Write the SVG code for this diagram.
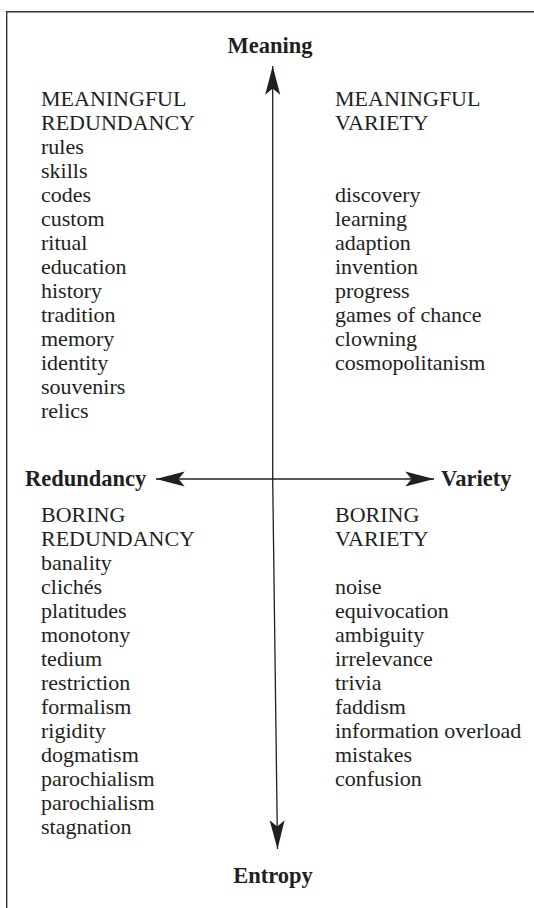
<svg xmlns="http://www.w3.org/2000/svg" width="534" height="908" viewBox="0 0 534 908">
<style>
  .t { font-family: "Liberation Serif", "Times New Roman", serif; font-size: 22px; fill: #231f20; }
  .b { font-family: "Liberation Serif", "Times New Roman", serif; font-size: 22.5px; font-weight: bold; fill: #231f20; }
  .ax { stroke: #231f20; stroke-width: 1.3; fill: none; }
  .frame { stroke: #333; stroke-width: 1.4; fill: none; }
</style>
<defs>
  <marker id="arr" markerUnits="userSpaceOnUse" markerWidth="30" markerHeight="16" refX="23" refY="6" orient="auto-start-reverse" viewBox="0 0 24 12">
    <path d="M23,6 L0,0 L5,6 L0,12 Z" fill="#231f20"/>
  </marker>
</defs>
<rect width="534" height="908" fill="#fff"/>
<path class="frame" d="M6.7,908 L6.7,11.7 L534,11.7"/>

<g id="connectors">
  <path class="ax" d="M272.7,66 L272.7,479 L277.5,849" marker-start="url(#arr)" marker-end="url(#arr)"/>
  <path class="ax" d="M156,479 L434,479" marker-start="url(#arr)" marker-end="url(#arr)"/>
</g>

<g id="axis-meaning"><text class="b" x="270" y="53" text-anchor="middle">Meaning</text></g>
<g id="axis-entropy"><text class="b" x="273" y="883" text-anchor="middle">Entropy</text></g>
<g id="axis-redundancy"><text class="b" x="25" y="486">Redundancy</text></g>
<g id="axis-variety"><text class="b" x="441" y="486">Variety</text></g>

<g id="meaningful-redundancy">
  <text class="t" x="41" y="106">MEANINGFUL</text>
  <text class="t" x="41" y="130">REDUNDANCY</text>
  <text class="t" x="41" y="154">rules</text>
  <text class="t" x="41" y="178">skills</text>
  <text class="t" x="41" y="202">codes</text>
  <text class="t" x="41" y="226">custom</text>
  <text class="t" x="41" y="250">ritual</text>
  <text class="t" x="41" y="274">education</text>
  <text class="t" x="41" y="298">history</text>
  <text class="t" x="41" y="322">tradition</text>
  <text class="t" x="41" y="346">memory</text>
  <text class="t" x="41" y="370">identity</text>
  <text class="t" x="41" y="394">souvenirs</text>
  <text class="t" x="41" y="418">relics</text>
</g>

<g id="meaningful-variety">
  <text class="t" x="335" y="106">MEANINGFUL</text>
  <text class="t" x="335" y="130">VARIETY</text>
  <text class="t" x="335" y="202">discovery</text>
  <text class="t" x="335" y="226">learning</text>
  <text class="t" x="335" y="250">adaption</text>
  <text class="t" x="335" y="274">invention</text>
  <text class="t" x="335" y="298">progress</text>
  <text class="t" x="335" y="322">games of chance</text>
  <text class="t" x="335" y="346">clowning</text>
  <text class="t" x="335" y="370">cosmopolitanism</text>
</g>

<g id="boring-redundancy">
  <text class="t" x="41" y="522">BORING</text>
  <text class="t" x="41" y="546">REDUNDANCY</text>
  <text class="t" x="41" y="570">banality</text>
  <text class="t" x="41" y="594">clichés</text>
  <text class="t" x="41" y="618">platitudes</text>
  <text class="t" x="41" y="642">monotony</text>
  <text class="t" x="41" y="666">tedium</text>
  <text class="t" x="41" y="690">restriction</text>
  <text class="t" x="41" y="714">formalism</text>
  <text class="t" x="41" y="738">rigidity</text>
  <text class="t" x="41" y="762">dogmatism</text>
  <text class="t" x="41" y="786">parochialism</text>
  <text class="t" x="41" y="810">parochialism</text>
  <text class="t" x="41" y="834">stagnation</text>
</g>

<g id="boring-variety">
  <text class="t" x="335" y="522">BORING</text>
  <text class="t" x="335" y="546">VARIETY</text>
  <text class="t" x="335" y="594">noise</text>
  <text class="t" x="335" y="618">equivocation</text>
  <text class="t" x="335" y="642">ambiguity</text>
  <text class="t" x="335" y="666">irrelevance</text>
  <text class="t" x="335" y="690">trivia</text>
  <text class="t" x="335" y="714">faddism</text>
  <text class="t" x="335" y="738">information overload</text>
  <text class="t" x="335" y="762">mistakes</text>
  <text class="t" x="335" y="786">confusion</text>
</g>
</svg>
